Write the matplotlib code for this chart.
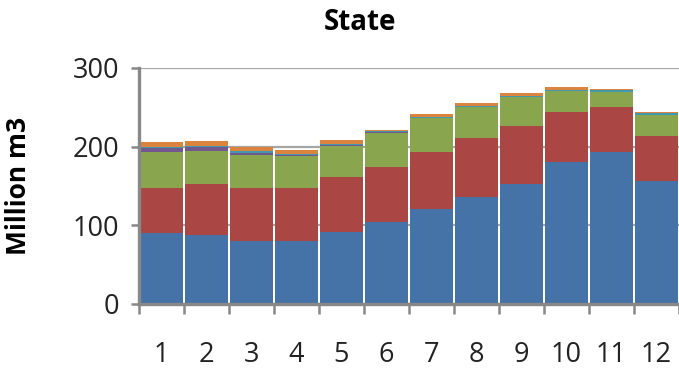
import matplotlib
matplotlib.use("Agg")
import matplotlib.pyplot as plt
import numpy as np

plt.rcParams['font.family'] = ['Open Sans', 'DejaVu Sans']

months = ["1", "2", "3", "4", "5", "6", "7", "8", "9", "10", "11", "12"]
blue = [90, 88, 80, 80, 92, 104.5, 121, 135.5, 152, 181, 193.5, 156]
red = [58, 64, 68, 68, 70, 70, 72.5, 76, 74, 63.5, 57, 58]
green = [45, 43, 41.5, 40, 39, 43.5, 43, 39, 37, 26.5, 19, 26.5]
purple = [5, 4, 3, 1, 0.5, 0.5, 0.3, 0.3, 0.3, 0.3, 0.3, 0.3]
teal = [2, 2.3, 1.5, 2, 2, 1, 1, 0.5, 0.5, 0.5, 2.5, 2]
orange = [5.5, 6, 5.5, 4.5, 4.5, 2, 3.5, 4, 3.8, 4, 1.5, 1.5]

series = [blue, red, green, purple, teal, orange]
colors = ["#4572A7", "#AA4643", "#89A54E", "#71588F", "#4198AF", "#DB843D"]

fig = plt.figure(figsize=(6.79, 3.73), dpi=100)
ax = fig.add_axes([139 / 679, 69 / 373, 540 / 679, 236 / 373])

x = np.arange(1, len(months) + 1)
bottom = np.zeros(len(months))
for vals, col in zip(series, colors):
    v = np.array(vals, dtype=float)
    ax.bar(x, v, width=0.955, bottom=bottom, color=col, edgecolor='none', zorder=2)
    bottom += v

ax.set_xlim(0.5, 12.5)
ax.set_ylim(0, 300)
ax.set_yticks([0, 100, 200, 300])
ax.yaxis.grid(True, color="#A6A6A6", linewidth=1.6, zorder=0)
ax.set_axisbelow(True)

for s in ["top", "right"]:
    ax.spines[s].set_visible(False)
for s in ["left", "bottom"]:
    ax.spines[s].set_color("#888888")
    ax.spines[s].set_linewidth(2.4)
    ax.spines[s].set_zorder(3)

ax.set_xticks(x)
ax.set_xticklabels(months)
ax.set_xticks(np.arange(0.5, 13.0, 1.0), minor=True)
ax.tick_params(axis='x', which='major', length=0, pad=27, labelsize=19.5, colors="#222222")
ax.tick_params(axis='x', which='minor', length=7, width=1.8, color="#888888", direction='out')
ax.tick_params(axis='y', length=6, width=1.8, color="#888888", pad=8, labelsize=19.5,
               labelcolor="#222222")

ax.set_ylabel("Million m3", fontsize=19, fontweight='bold', labelpad=10)
ax.yaxis.set_label_coords(-0.198, 0.5)
fig.text(360 / 679, 1 - 22 / 373, "State", ha='center', va='center',
         fontsize=20, fontweight='bold')

fig.savefig("out.png", dpi=100)
